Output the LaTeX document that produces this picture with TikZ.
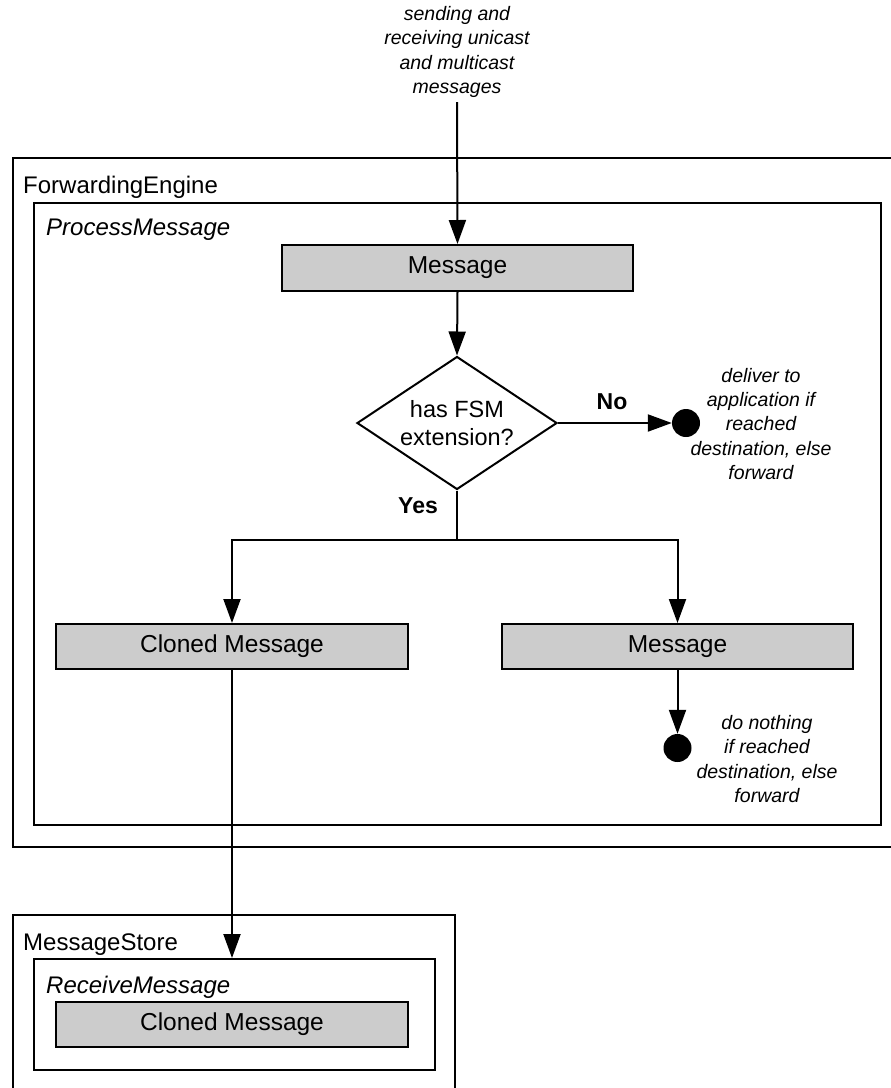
\documentclass[tikz,border=0pt]{standalone}
\usepackage{fontspec}
\setmainfont{Liberation Sans}
\usetikzlibrary{arrows.meta,shapes.geometric}

\tikzset{
  line/.style={line width=2pt, draw=black},
  arr/.style={line, -{Triangle[length=24pt,width=17pt]}},
  container/.style={line, rectangle, inner sep=0pt, anchor=north west},
  title/.style={inner sep=0pt, anchor=base west, font=\fontsize{24}{28}\selectfont},
  ititle/.style={title, font=\fontsize{24}{28}\selectfont\itshape},
  msgbox/.style={line, rectangle, fill=boxgray, inner sep=0pt,
    font=\fontsize{24.5}{28}\selectfont},
  decision/.style={line, diamond, fill=white, inner sep=0pt, align=center,
    aspect=1.5, minimum width=200pt, minimum height=133pt,
    font=\fontsize{23.5}{28}\selectfont},
  endpoint/.style={circle, fill=black, inner sep=0pt, minimum size=28pt},
  note/.style={inner sep=0pt, align=center,
    font=\fontsize{19.5}{24.3}\selectfont\itshape},
  branch/.style={inner sep=0pt, font=\fontsize{23}{27}\selectfont\bfseries},
}
\definecolor{boxgray}{HTML}{CCCCCC}

\begin{document}
\begin{tikzpicture}[x=1pt, y=-1pt]
  \useasboundingbox (0,0) rectangle (891,1088);
  \clip (0,0) rectangle (891,1088);
  \fill[white] (0,0) rectangle (891,1088);

  % incoming messages
  \node[note] (input) at (457,52) {sending and\\receiving unicast\\and multicast\\messages};
  \coordinate (src) at (457,102);

  % ForwardingEngine component with its ProcessMessage activity
  \node[container, minimum width=900pt, minimum height=689pt] (fwd) at (12,157) {};
  \node[title] (fwdlabel) at (23,193) {ForwardingEngine};
  \node[container, minimum width=847pt, minimum height=622pt] (proc) at (33,202) {};
  \node[ititle] (proclabel) at (46,235) {ProcessMessage};

  \node[msgbox, minimum width=351pt, minimum height=46pt] (msg1) at (457.5,268) {Message};
  \node[decision] (dec) at (457,423) {has FSM\\extension?};
  \node[endpoint] (dot1) at (686,423) {};
  \node[note] (note1) at (761,424) {deliver to\\application if\\reached\\destination, else\\forward};
  \node[branch] (no) at (612,402) {No};
  \node[branch] (yes) at (418,506) {Yes};

  \coordinate (split) at (457,540);
  \node[msgbox, minimum width=352pt, minimum height=45pt] (clone) at (232,646.5) {Cloned Message};
  \node[msgbox, minimum width=351pt, minimum height=45pt] (msg2) at (677.5,646.5) {Message};
  \node[endpoint] (dot2) at (677.5,748) {};
  \node[note] (note2) at (767,759) {do nothing\\if reached\\destination, else\\forward};

  % MessageStore component with its ReceiveMessage activity
  \node[container, minimum width=442pt, minimum height=200pt] (store) at (12,914) {};
  \node[title] (storelabel) at (23,950) {MessageStore};
  \node[container, minimum width=401pt, minimum height=111pt] (recv) at (33,958) {};
  \node[ititle] (recvlabel) at (46,993) {ReceiveMessage};
  \node[msgbox, minimum width=352pt, minimum height=45pt] (stored) at (232,1024.5) {Cloned Message};

  % flow
  \draw[arr] (src) -- (msg1.north);
  \draw[arr] (msg1.south) -- (dec.north);
  \draw[arr] (dec.east) -- (dot1.west);
  \draw[line] (dec.south) -- (split);
  \draw[arr] (split) -| (clone.north);
  \draw[arr] (split) -| (msg2.north);
  \draw[arr] (msg2.south) -- (dot2.north);
  \draw[arr] (clone.south) -- (clone.south |- recv.north);
\end{tikzpicture}
\end{document}
